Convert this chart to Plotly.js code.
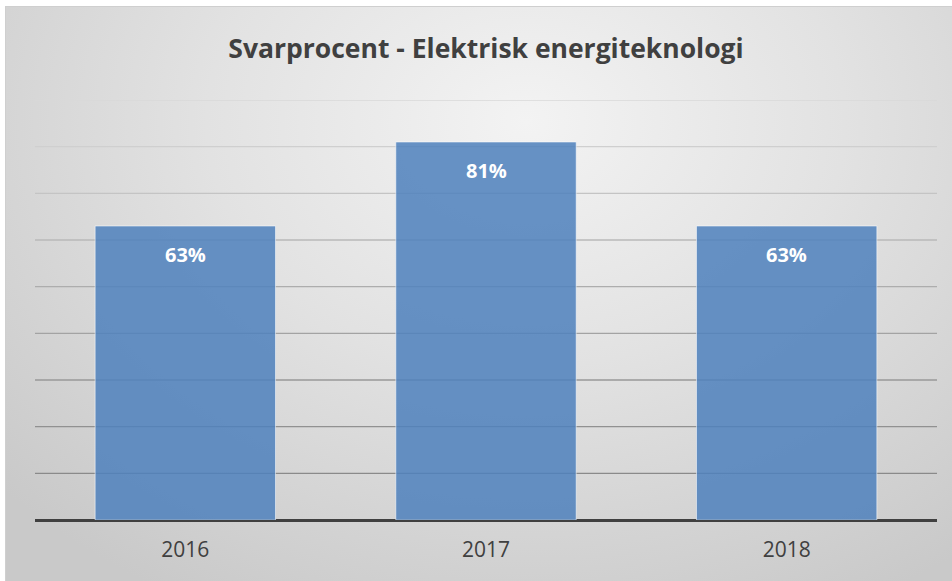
<!DOCTYPE html>
<html>
<head>
<meta charset="utf-8">
<script src="https://cdn.plot.ly/plotly-3.0.1.min.js"></script>
<style>
  html, body { margin: 0; padding: 0; background: #ffffff; }
  #wrap { position: relative; width: 952px; height: 581px; overflow: hidden; }
  #bg { position: absolute; left: 5px; top: 6px; right: 0; bottom: 0;
        border-left: 1px solid #cfcfcf; border-top: 1px solid #cfcfcf;
        background: radial-gradient(ellipse 75% 95% at 55% 20%, #f3f3f3 0%, #e2e2e2 45%, #c9c9c9 100%); }
  #chart { position: absolute; left: 0; top: 0; width: 952px; height: 581px; }
</style>
</head>
<body>
<div id="wrap"><div id="bg"></div><div id="chart"></div></div>
<script>
const years = ['2016', '2017', '2018'];
const svarprocent = [63, 81, 63];
const labels = ['63%', '81%', '63%'];
const gridValues = [10, 20, 30, 40, 50, 60, 70, 80, 90];
const gridColors = ['#8a8a8a', '#919191', '#999999', '#a3a3a3', '#adadad', '#b8b8b8', '#c4c4c4', '#cfcfcf', '#d8d8d8'];

const trace = {
  type: 'bar',
  x: years,
  y: svarprocent,
  marker: { color: 'rgba(79,129,189,0.86)', line: { color: 'rgba(255,255,255,0.55)', width: 1 } }
};

const shapes = gridValues.map((v, i) => ({
  type: 'line', xref: 'paper', x0: 0, x1: 1, yref: 'y', y0: v, y1: v,
  line: { color: gridColors[i], width: 1.3 }, layer: 'below'
}));

const annotations = years.map((yr, i) => ({
  x: i, y: svarprocent[i], xref: 'x', yref: 'y', text: labels[i],
  showarrow: false, yanchor: 'middle', yshift: -28,
  font: { family: 'Open Sans, sans-serif', size: 20, color: '#ffffff', weight: 'bold' }
}));

const layout = {
  width: 952, height: 581,
  paper_bgcolor: 'rgba(0,0,0,0)', plot_bgcolor: 'rgba(0,0,0,0)',
  margin: { l: 35, r: 15, t: 100, b: 61 },
  showlegend: false,
  bargap: 0.4,
  title: {
    text: '<b>Svarprocent - Elektrisk energiteknologi</b>',
    font: { family: 'Open Sans, sans-serif', size: 26.5, color: '#404040' },
    x: 0.5, xref: 'paper', xanchor: 'center',
    y: 1 - 49 / 581, yref: 'container', yanchor: 'middle'
  },
  xaxis: {
    type: 'category', range: [-0.5, 2.5], showgrid: false, zeroline: false, showline: false,
    ticks: '', ticklabelstandoff: 15,
    tickfont: { family: 'Open Sans, sans-serif', size: 21, color: '#404040' }
  },
  yaxis: {
    range: [0, 90], showgrid: false, showticklabels: false, ticks: '',
    zeroline: true, zerolinecolor: '#404040', zerolinewidth: 3
  },
  shapes: shapes,
  annotations: annotations
};

Plotly.newPlot('chart', [trace], layout, { displayModeBar: false, staticPlot: true });
</script>
</body>
</html>
